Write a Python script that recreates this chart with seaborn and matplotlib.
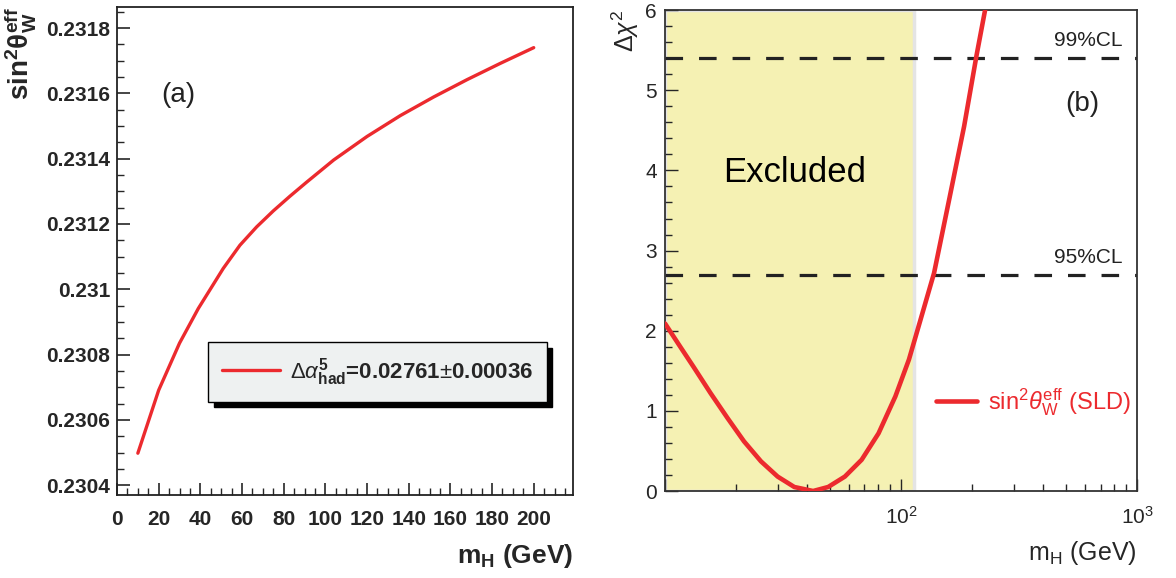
import numpy as np
import pandas as pd
import matplotlib.pyplot as plt
import seaborn as sns

# (a) sin^2 theta_eff vs m_H
mh_a = [10, 20, 30, 39, 51, 59, 67, 75, 83, 91, 104, 120, 136, 152, 168, 184, 200]
sin2 = [0.230498, 0.230691, 0.230835, 0.230941, 0.231064, 0.231135, 0.231191, 0.231240, 0.231285,
        0.231328, 0.231396, 0.231468, 0.231532, 0.231589, 0.231642, 0.231692, 0.231740]
ytick_a = [0.2304, 0.2306, 0.2308, 0.2310, 0.2312, 0.2314, 0.2316, 0.2318]
ytick_a_lbl = ["0.2304", "0.2306", "0.2308", "0.231", "0.2312", "0.2314", "0.2316", "0.2318"]
xtick_a = [0, 20, 40, 60, 80, 100, 120, 140, 160, 180, 200]

# (b) delta chi2 vs m_H (log)
mh_b = [10, 11.6, 13.2, 15.6, 18.4, 21.6, 25.5, 30.0, 35.3, 42.4, 49.1, 57.8, 68.1, 80.3, 94.6,
        108, 121, 138, 160, 185, 209, 228]
dchi2 = [2.09, 1.80, 1.55, 1.22, 0.91, 0.62, 0.37, 0.18, 0.05, 0.0, 0.05, 0.18, 0.39, 0.72, 1.18,
         1.64, 2.14, 2.72, 3.64, 4.55, 5.44, 6.03]
excl_lo, excl_hi = 10, 114
cl95, cl99 = 2.7, 5.4

red = "#EC2A2E"

sns.set_theme(style="ticks")
plt.rcParams['font.family'] = ['Liberation Sans', 'DejaVu Sans']
plt.rcParams['mathtext.fontset'] = 'custom'
plt.rcParams['mathtext.rm'] = 'Liberation Sans'
plt.rcParams['mathtext.it'] = 'Liberation Sans:italic'
plt.rcParams['mathtext.bf'] = 'Liberation Sans:bold'
plt.rcParams['xtick.direction'] = 'in'
plt.rcParams['ytick.direction'] = 'in'

fig = plt.figure(figsize=(11.76, 5.78), dpi=100)
ax1 = fig.add_axes([0.0995, 0.1436, 0.388, 0.844])
ax2 = fig.add_axes([0.5655, 0.1505, 0.4014, 0.832])

# ---- panel (a)
df_a = pd.DataFrame({"mH": mh_a, "sin2": sin2})
sns.lineplot(data=df_a, x="mH", y="sin2", ax=ax1, color=red, lw=2.4, solid_joinstyle='round',
             label=r"$\Delta\alpha^{\mathbf{5}}_{\mathbf{had}}$=0.02761$\pm$0.00036")
ax1.set_xlim(0, 219)
ax1.set_ylim(0.23037, 0.231864)
ax1.set_xticks(xtick_a)
ax1.set_xticklabels([str(v) for v in xtick_a])
ax1.set_yticks(ytick_a)
ax1.set_yticklabels(ytick_a_lbl)
ax1.set_xticks(np.arange(0, 220, 5), minor=True)
ax1.set_yticks(np.arange(0.2304, 0.23186, 0.00005), minor=True)
ax1.tick_params(which='major', length=9, width=1.2, labelsize=15)
ax1.tick_params(axis='x', which='major', pad=11)
ax1.tick_params(axis='y', which='major', pad=5)
ax1.tick_params(which='minor', length=5, width=1.0)
for lbl in ax1.get_xticklabels() + ax1.get_yticklabels():
    lbl.set_fontweight('bold')
for s in ax1.spines.values():
    s.set_linewidth(1.3)
    s.set_color('#222222')
ax1.set_xlabel(r"$\mathbf{m_H}$ (GeV)", fontsize=19, fontweight='bold', loc='right', labelpad=9)
ax1.set_ylabel(r"$\mathbf{sin^2\theta^{eff}_W}$", fontsize=20, loc='top', labelpad=6)
ax1.text(0.134, 0.82, "(a)", transform=ax1.transAxes, fontsize=20, color='#222222',
         ha='center', va='center')
leg = ax1.legend(loc='upper left', bbox_to_anchor=(0.2, 0.3135), borderaxespad=0,
                 fancybox=False, framealpha=1, facecolor='#EEF1F1', edgecolor='black',
                 handlelength=2.6, handletextpad=0.45, borderpad=0.62, fontsize=16,
                 shadow={'facecolor': 'black', 'edgecolor': 'black', 'alpha': 1, 'ox': 4, 'oy': -4})
leg.get_frame().set_linewidth(1.0)
for t in leg.get_texts():
    t.set_fontweight('bold')

# ---- panel (b)
df_b = pd.DataFrame({"mH": mh_b, "dchi2": dchi2})
ax2.axvspan(excl_lo, excl_hi, facecolor='#F5F1B3', edgecolor='#E4E4E4', lw=2.5, zorder=0.5)
ax2.axhline(cl95, color='#222222', lw=2.3, ls=(0, (5.5, 5.0)), zorder=2)
ax2.axhline(cl99, color='#222222', lw=2.3, ls=(0, (5.5, 5.0)), zorder=2)
sns.lineplot(data=df_b, x="mH", y="dchi2", ax=ax2, color=red, lw=3.3, zorder=3,
             solid_joinstyle='round', label=r"sin$^2\theta^{\rm eff}_{\rm W}$ (SLD)")
ax2.set_xscale('log')
ax2.set_xlim(10, 1000)
ax2.set_ylim(0, 6)
ax2.set_xticks([10, 100, 1000])
ax2.set_xticklabels(["", r"$10^{2}$", r"$10^{3}$"])
ax2.set_xticks([m * d for d in (10, 100) for m in range(2, 10)], minor=True)
ax2.set_xticklabels([], minor=True)
ax2.set_yticks(range(0, 7))
ax2.set_yticks(np.arange(0, 6.01, 0.2), minor=True)
ax2.tick_params(which='major', length=9, width=1.0, labelsize=15)
ax2.tick_params(axis='x', which='major', pad=11)
ax2.tick_params(axis='y', which='major', pad=6)
ax2.tick_params(which='minor', length=5, width=1.0)
for s in ax2.spines.values():
    s.set_linewidth(1.3)
    s.set_color('#333333')
ax2.set_xlabel(r"m$_{\rm H}$ (GeV)", fontsize=18, loc='right', labelpad=8)
ax2.set_ylabel(r"$\Delta\chi^2$", fontsize=18, loc='top', labelpad=3)
ax2.text(0.97, cl99 + 0.1, "99%CL", transform=ax2.get_yaxis_transform(), ha='right', va='bottom',
         fontsize=15, color='#222222')
ax2.text(0.97, cl95 + 0.1, "95%CL", transform=ax2.get_yaxis_transform(), ha='right', va='bottom',
         fontsize=15, color='#222222')
ax2.text(0.885, 4.83, "(b)", transform=ax2.get_yaxis_transform(), ha='center', va='center',
         fontsize=20, color='#222222')
ax2.text(0.275, 3.98, "Excluded", transform=ax2.get_yaxis_transform(), ha='center', va='center',
         fontsize=25, color='black')
leg2 = ax2.legend(loc='center left', bbox_to_anchor=(0.53, 0.185), frameon=False, fontsize=17,
                  handlelength=1.7, handletextpad=0.5, labelcolor='linecolor')

fig.savefig("out.png", dpi=100)
